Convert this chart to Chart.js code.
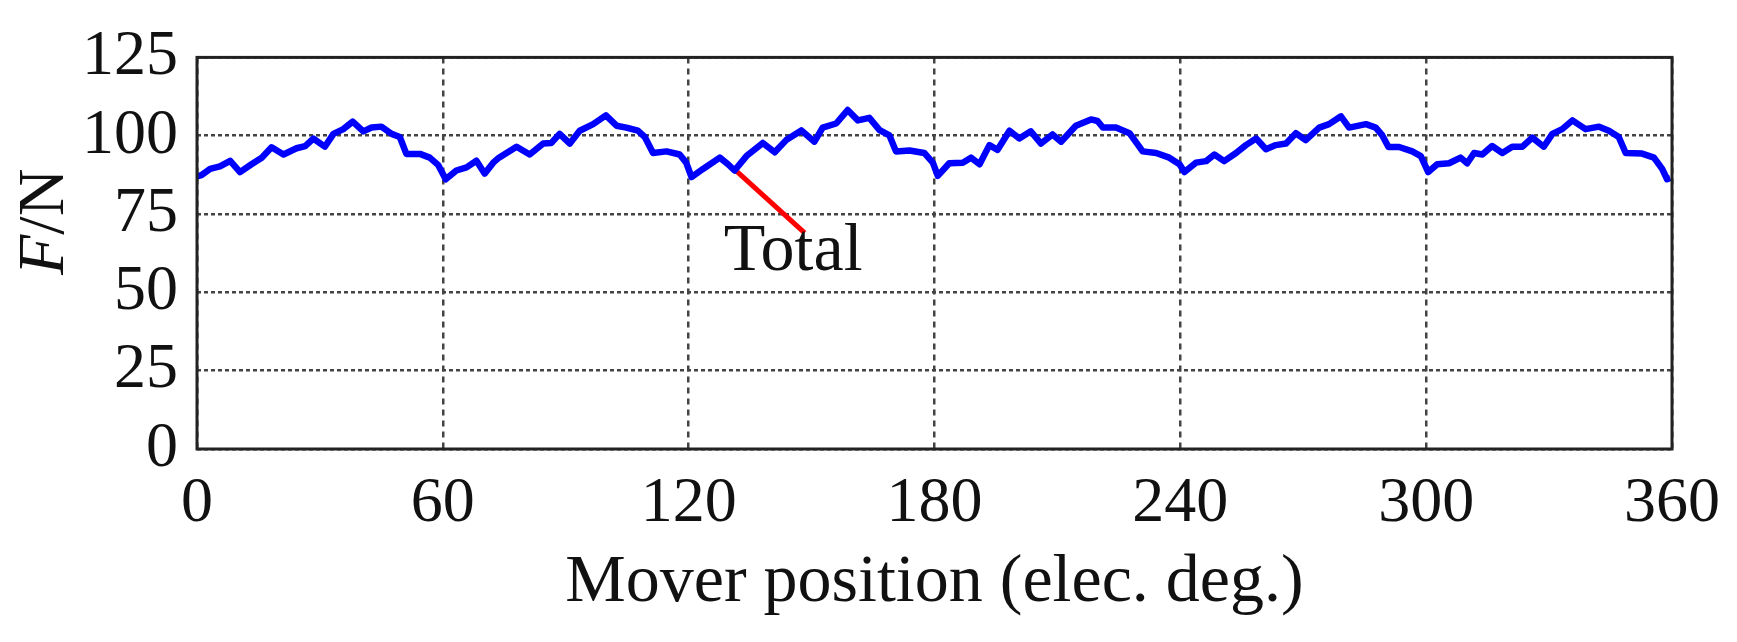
<!DOCTYPE html>
<html lang="en">

<head>
    <meta charset="UTF-8">
    <title>Total force vs mover position</title>
    <script src="https://cdn.jsdelivr.net/npm/chart.js@4.4.1/dist/chart.umd.min.js"></script>
    <style>
        body {
            margin: 0;
            background: #fff;
        }

        canvas {
            display: block;
        }
    </style>
</head>

<body>
    <canvas id="myCanvas" width="1737" height="642"></canvas>
    <script>
        // Mover position (elec. deg.) and total force (N)
        const position = [0, 1.1, 3.2, 5.6, 8.1, 10.5, 13.3, 15.8, 18.2, 21.1, 24.3, 26.4, 28.4, 31.2, 33.3, 35.7, 38, 40.6, 42.6, 45,
            47.5, 49.5, 51.1, 54.4, 56.8, 58.9, 60.7, 63.3, 65.8, 68.2, 70.2, 72.3, 73.7, 78, 81.2, 84.5, 86.5, 88.5, 91, 93.4,
            96.7, 99.8, 102.4, 104.8, 107.6, 109.3, 111.3, 114.6, 117.8, 119.4, 120.7, 123.5, 127.6, 129.6, 131.2, 134.1, 138.1, 141, 143.8, 147.5,
            150.7, 152.7, 156, 158.8, 161.3, 164.1, 166.6, 169, 170.6, 173.9, 177.5, 179.6, 180.8, 183.6, 186.9, 188.9, 191, 193.4, 195.4, 198.3,
            200.7, 203.5, 206, 208.8, 210.9, 214.5, 218.2, 219.8, 221.1, 224.3, 227.6, 230.8, 234.1, 237.3, 239.8, 241, 243.8, 246.3, 248.3, 250.7,
            253.6, 256, 258.5, 260.9, 263.3, 265.8, 268.2, 270.6, 273.9, 276.3, 279.2, 281.2, 285.3, 287.7, 289.3, 290.8, 293.4, 296.6, 298.7, 300.5,
            302.7, 305.6, 308.4, 310, 311.7, 313.7, 316.1, 318.6, 321, 323.5, 325.9, 328.7, 330.8, 333.2, 335.7, 338.9, 342.2, 344.6, 347, 348.7,
            352.7, 355.6, 357.6, 358.8, 359.6];
        const force = [87, 87.4, 89.4, 90.2, 92, 88.4, 90.9, 93, 96.3, 94, 96, 96.7, 99.1, 96.5, 100.6, 102.1, 104.5, 101.4, 102.6, 102.9,
            100.6, 99.6, 94.2, 94.2, 93, 90.6, 86.1, 88.9, 89.9, 92, 87.9, 91.4, 93, 96.5, 94, 97.5, 97.7, 100.6, 97.5, 101.6,
            103.7, 106.5, 103.2, 102.6, 101.6, 99.6, 94.5, 95, 94, 91.4, 86.8, 89.4, 93, 90.9, 88.9, 93.5, 97.7, 94.7, 98.6, 101.7,
            98.1, 102.6, 103.9, 108.2, 104.9, 105.7, 101.8, 100.1, 95, 95.3, 94.5, 91.4, 87.2, 91.2, 91.4, 93, 90.9, 97, 95.5, 101.6,
            99.1, 101.4, 97.5, 100.4, 98.1, 103.2, 105.2, 104.7, 102.6, 102.6, 100.8, 95, 94.5, 93, 90.9, 88.4, 91.4, 91.9, 94, 91.9,
            94.5, 97, 99.1, 95.7, 97, 97.5, 100.8, 98.6, 102.6, 103.7, 106.2, 102.6, 103.7, 102.6, 100.1, 96.4, 96.4, 95, 93.5, 88.4,
            90.9, 91.2, 93, 91.2, 94.5, 94, 96.7, 94.5, 96.5, 96.5, 99.4, 96.5, 100.6, 102.1, 104.9, 102.1, 102.9, 101.6, 99.6, 94.5,
            94.3, 93, 89.4, 86.1, 86.5];

        // Axis ticks
        const xTicks = [0, 60, 120, 180, 240, 300, 360];
        const yTicks = [0, 25, 50, 75, 100, 125];

        // "Total" leader line and label (data units)
        const leaderX = [131.4, 148.3];
        const leaderY = [89, 69];
        const labelText = 'Total';
        const labelX = 145.5;
        const labelY = 57;

        const serif = '"Liberation Serif", "Times New Roman", serif';

        // frame, axis titles and the "Total" label
        const decorations = {
            id: 'decorations',
            afterDatasetsDraw(chart) {
                const { ctx, chartArea: a, scales } = chart;
                ctx.save();
                ctx.strokeStyle = '#222';
                ctx.lineWidth = 3;
                ctx.strokeRect(a.left, a.top, a.right - a.left, a.bottom - a.top);

                ctx.fillStyle = '#111';
                ctx.textBaseline = 'alphabetic';

                // x title
                ctx.font = '68px ' + serif;
                ctx.textAlign = 'center';
                ctx.fillText('Mover position (elec. deg.)', (a.left + a.right) / 2, 601);

                // label next to the leader line
                ctx.fillText(labelText, scales.x.getPixelForValue(labelX), scales.y.getPixelForValue(labelY));

                // y title, italic F
                ctx.translate(63, 275);
                ctx.rotate(-Math.PI / 2);
                ctx.textAlign = 'left';
                ctx.font = 'italic 66px ' + serif;
                ctx.fillText('F', 0, 0);
                const w = ctx.measureText('F').width;
                ctx.font = '66px ' + serif;
                ctx.fillText('/N', w, 0);
                ctx.restore();
            }
        };

        window.onload = () => {
            new Chart(document.getElementById('myCanvas'), {
                type: 'line',
                data: {
                    datasets: [{
                        label: 'Total',
                        data: position.map((p, i) => ({ x: p, y: force[i] })),
                        borderColor: '#0000ff',
                        borderWidth: 6.5,
                        borderJoinStyle: 'round',
                        pointRadius: 0,
                        tension: 0,
                        fill: false
                    }, {
                        label: 'leader',
                        data: leaderX.map((p, i) => ({ x: p, y: leaderY[i] })),
                        borderColor: '#ff0000',
                        borderWidth: 5,
                        pointRadius: 0,
                        fill: false
                    }]
                },
                options: {
                    responsive: false,
                    animation: false,
                    layout: {
                        padding: { top: 40, right: 64, left: 0, bottom: 0 }
                    },
                    plugins: {
                        legend: { display: false },
                        tooltip: { enabled: false }
                    },
                    scales: {
                        x: {
                            type: 'linear',
                            min: 0,
                            max: 360,
                            afterFit: (s) => { s.height = 193; },
                            afterBuildTicks: (s) => { s.ticks = xTicks.map(v => ({ value: v })); },
                            grid: { color: '#444', lineWidth: 2.5, drawTicks: false },
                            border: { display: false, dash: [6, 5] },
                            ticks: {
                                color: '#111',
                                padding: 17,
                                maxRotation: 0,
                                autoSkip: false,
                                font: { family: serif, size: 64 }
                            }
                        },
                        y: {
                            min: 0,
                            max: 125,
                            afterFit: (s) => { s.width = 197; },
                            afterBuildTicks: (s) => { s.ticks = yTicks.map(v => ({ value: v })); },
                            grid: { color: '#444', lineWidth: 2.5, drawTicks: false },
                            border: { display: false, dash: [4, 3] },
                            ticks: {
                                color: '#111',
                                padding: 19,
                                autoSkip: false,
                                font: { family: serif, size: 64 }
                            }
                        }
                    }
                },
                plugins: [decorations]
            });
        }
    </script>
</body>

</html>
